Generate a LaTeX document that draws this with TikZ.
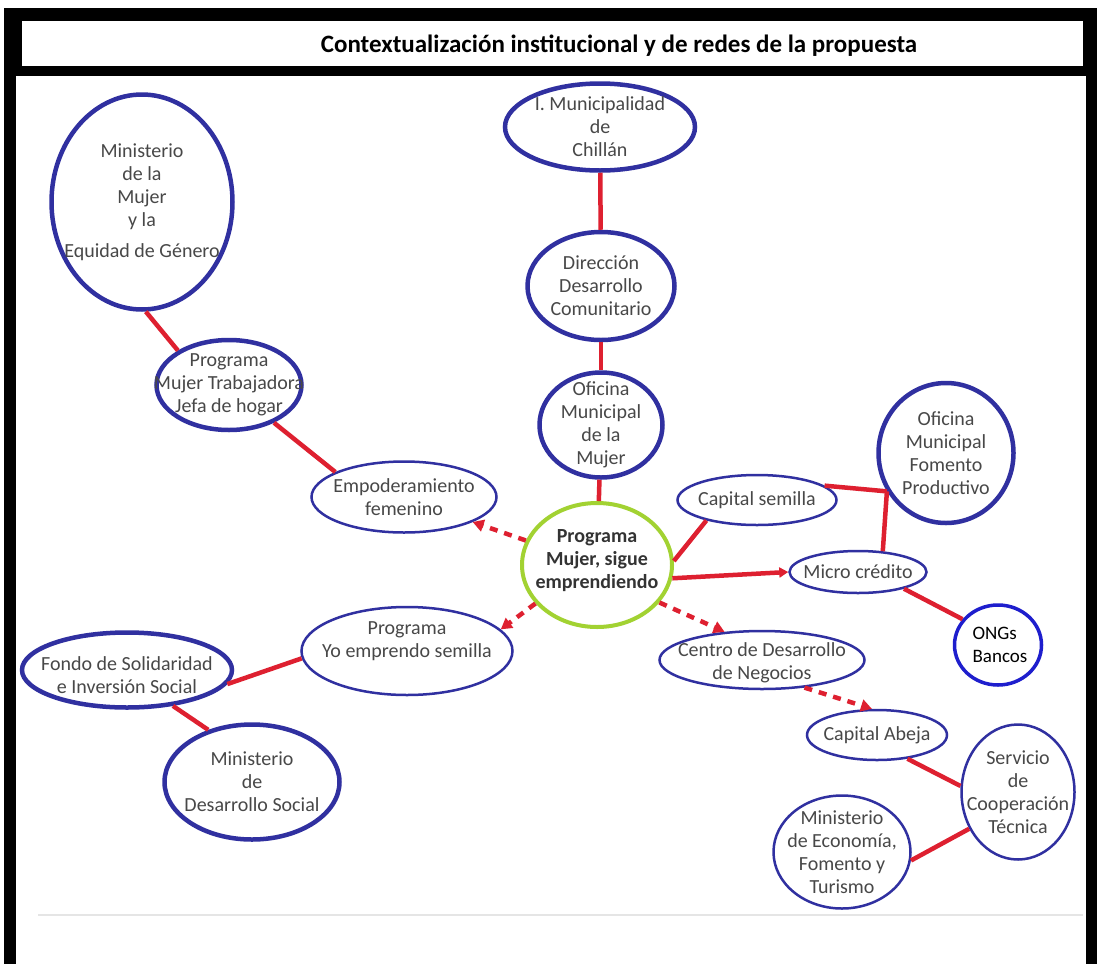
\documentclass[tikz,border=0pt]{standalone}
\usepackage{fontspec}
\setmainfont{Carlito}
\usetikzlibrary{shapes.geometric, arrows.meta}

\definecolor{instblue}{RGB}{48,48,160}
\definecolor{ongblue}{RGB}{30,30,205}
\definecolor{linkred}{RGB}{222,32,48}
\definecolor{proggreen}{RGB}{162,210,50}
\definecolor{txtgray}{RGB}{72,72,72}

\begin{document}
\begin{tikzpicture}[
        x=1pt, y=-1pt,
        gtext/.style={align=center, text=txtgray, font=\fontsize{20}{23}\selectfont},
        inst/.style={ellipse, draw=instblue, line width=4.5pt, inner sep=0pt},
        thin inst/.style={inst, line width=2.5pt},
        link/.style={draw=linkred, line width=4.5pt},
        dlink/.style={link, dash pattern=on 8pt off 7pt, -{Triangle[length=11pt,width=12pt]}},
    ]
    \useasboundingbox (0,0) rectangle (1097,964);
    % frame
    \fill (4,8) rectangle (1097,964);
    \fill[white] (16,76) rectangle (1086,964);
    \fill[white] (22,21) rectangle (1083,66);
    \draw[black!10, line width=1.5pt] (38,915) -- (1083,915);

    \node[font=\fontsize{25}{29}\selectfont\bfseries] (title) at (619,46)
        {Contextualización institucional y de redes de la propuesta};

    % left side
    \node[inst, minimum width=181pt, minimum height=215pt,
        label={[gtext]center:Ministerio\\de la\\Mujer\\y la\\[8pt]Equidad de Género}] (minmujer) at (142,202) {};
    \node[inst, minimum width=145pt, minimum height=90pt,
        label={[gtext]center:Programa\\Mujer Trabajadora\\Jefa de hogar}] (progmt) at (229,385) {};
    \node[thin inst, minimum width=185pt, minimum height=71pt,
        label={[gtext]center:Empoderamiento\\femenino}] (empod) at (404,497) {};
    \node[thin inst, minimum width=211pt, minimum height=88pt,
        label={[gtext, yshift=10pt]center:Programa\\Yo emprendo semilla}] (yoemp) at (407,651) {};
    \node[inst, minimum width=210pt, minimum height=75pt,
        label={[gtext, yshift=-5pt]center:Fondo de Solidaridad\\e Inversión Social}] (fondo) at (127,670) {};
    \node[inst, minimum width=175pt, minimum height=115pt,
        label={[gtext]center:Ministerio\\de\\Desarrollo Social}] (minds) at (252,782) {};

    % centre column
    \node[inst, minimum width=190pt, minimum height=87pt,
        label={[gtext]center:I. Municipalidad\\de\\Chillán}] (muni) at (600,127) {};
    \node[inst, minimum width=147pt, minimum height=108pt,
        label={[gtext]center:Dirección\\Desarrollo\\Comunitario}] (dideco) at (601,286) {};
    \node[inst, minimum width=123pt, minimum height=105pt,
        label={[gtext]center:Oficina\\Municipal\\de la\\Mujer}] (ofmujer) at (601,425) {};
    \node[inst, draw=proggreen, line width=4pt, minimum width=150pt, minimum height=124pt,
        label={[gtext, text=black!80, font=\fontsize{20}{23}\selectfont\bfseries, yshift=4pt]center:Programa\\Mujer, sigue\\emprendiendo}] (prog) at (597,565) {};

    % right side
    \node[thin inst, minimum width=159pt, minimum height=50pt,
        label={[gtext]center:Capital semilla}] (capsem) at (757,500) {};
    \node[inst, minimum width=135pt, minimum height=140pt,
        label={[gtext]center:Oficina\\Municipal\\Fomento\\Productivo}] (fomento) at (946,453) {};
    \node[thin inst, minimum width=137pt, minimum height=42pt,
        label={[gtext]center:Micro crédito}] (micro) at (858,572) {};
    \node[inst, draw=ongblue, line width=3.5pt, minimum width=87pt, minimum height=80pt,
        label={[align=left, font=\fontsize{19}{23}\selectfont, xshift=2pt]center:ONGs\\Bancos}] (ongs) at (998,645) {};
    \node[thin inst, minimum width=205pt, minimum height=58pt,
        label={[gtext, yshift=-3pt]center:Centro de Desarrollo\\de Negocios}] (centro) at (762,660) {};
    \node[thin inst, minimum width=140pt, minimum height=50pt,
        label={[gtext]center:Capital Abeja}] (capabeja) at (877,735) {};
    \node[thin inst, minimum width=113pt, minimum height=135pt,
        label={[gtext]center:Servicio\\de\\Cooperación\\Técnica}] (sercotec) at (1018,792) {};
    \node[thin inst, minimum width=137pt, minimum height=113pt,
        label={[gtext]center:Ministerio\\de Economía,\\Fomento y\\Turismo}] (mineco) at (842,852) {};

    % links
    \draw[link] (minmujer.-88) -- (progmt.146);
    \draw[link] (progmt.-40) -- (empod.160);
    \draw[link] (muni) -- (dideco);
    \draw[link] (dideco) -- (ofmujer);
    \draw[link] (ofmujer) -- (prog);
    \draw[dlink] (prog.161) -- (empod.-20);
    \draw[dlink] (prog.-148) -- (yoemp.13);
    \draw[dlink] (prog.-31) -- (centro.143);
    \draw[link] (prog.3) -- (capsem.-158);
    \draw[link, -{Triangle[length=9pt,width=10pt]}] (prog.-10) -- (micro.west);
    \draw[link] (capsem.12) -- (fomento.-147);
    \draw[link] (micro.40) -- (fomento.-147);
    \draw[link] (micro.-20) -- (ongs.144);
    \draw[link] (fondo.-8) -- (yoemp.-176);
    \draw[link] (fondo.-38) -- (minds.130);
    \draw[dlink] (centro.-33) -- (capabeja.101);
    \draw[link] (capabeja.-38) -- (sercotec.174);
    \draw[link] (mineco.-7) -- (sercotec.-143);
\end{tikzpicture}
\end{document}
